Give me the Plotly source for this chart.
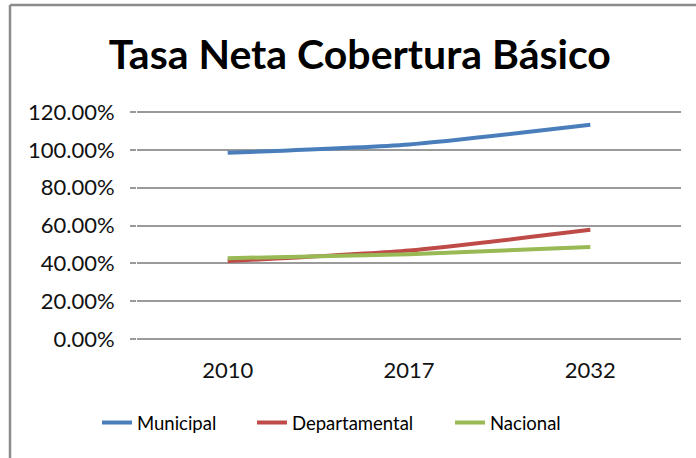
import plotly.graph_objects as go

years = ["2010", "2017", "2032"]
municipal = [0.984, 1.028, 1.132]
departamental = [0.412, 0.468, 0.577]
nacional = [0.427, 0.448, 0.487]

y_ticks = [0, 0.2, 0.4, 0.6, 0.8, 1.0, 1.2]
y_labels = ["0.00%", "20.00%", "40.00%", "60.00%", "80.00%", "100.00%", "120.00%"]

series = [
    ("Municipal", municipal, "#4A7EBB", "legend"),
    ("Departamental", departamental, "#BE4B48", "legend2"),
    ("Nacional", nacional, "#98B954", "legend3"),
]

FONT = "Lato, Carlito, Calibri, sans-serif"

fig = go.Figure()
for name, vals, color, lg in series:
    fig.add_trace(go.Scatter(
        x=years, y=vals, name=name, mode="lines", legend=lg,
        line=dict(color=color, width=4, shape="spline", smoothing=0.6),
    ))

W, H = 696, 458
L, R, T, B = 137, 15, 110, 117
PW, PH = W - L - R, H - T - B
YPAD = 2 * 1.2 / 227  # 2 px of value padding so edge gridlines get drawn

def px_x(px):
    return (px - L) / PW

def px_y(py):
    return (H - B - py) / PH

legend_text_start = [141, 296, 494]

def legend_box(text_px):
    return dict(
        orientation="h", x=px_x(text_px - 44), xanchor="left",
        y=px_y(423), yanchor="middle",
        font=dict(family=FONT, size=18.5, color="#000000"),
        bgcolor="rgba(0,0,0,0)",
    )

fig.update_layout(
    width=W, height=H,
    margin=dict(l=L, r=R, t=T, b=B),
    paper_bgcolor="white", plot_bgcolor="white",
    font=dict(family=FONT, size=18, color="#111111"),
    title=dict(
        text="<b>Tasa Neta Cobertura Básico</b>",
        x=0.517, xanchor="center", y=1 - 55 / H, yanchor="middle",
        font=dict(family=FONT, size=41, color="#000000"),
    ),
    showlegend=True,
    legend=legend_box(legend_text_start[0]),
    legend2=legend_box(legend_text_start[1]),
    legend3=legend_box(legend_text_start[2]),
    xaxis=dict(
        type="category", range=[-0.5, 2.5],
        showgrid=False, showline=False, zeroline=False,
        ticks="", tickfont=dict(family=FONT, size=22, color="#111111"),
        ticklabelstandoff=14,
    ),
    yaxis=dict(
        range=[0 - YPAD, 1.2 + YPAD], tickvals=y_ticks, ticktext=y_labels,
        showgrid=True, gridcolor="#9A9A9A", gridwidth=1.5,
        zeroline=False, showline=False,
        ticks="outside", ticklen=6, tickcolor="#9A9A9A", tickwidth=1.5,
        tickfont=dict(family=FONT, size=22, color="#111111"),
        ticklabelstandoff=11,
    ),
)

# outer chart frame (left and top edges visible in the reference)
fig.add_shape(type="line", xref="paper", yref="paper",
              x0=px_x(10), x1=px_x(W + 5),
              y0=px_y(5), y1=px_y(5),
              line=dict(color="#8C8C8C", width=2.5))
fig.add_shape(type="line", xref="paper", yref="paper",
              x0=px_x(10), x1=px_x(10),
              y0=px_y(5), y1=px_y(H + 5),
              line=dict(color="#8C8C8C", width=2.5))

fig.write_html("out.html", config={"displayModeBar": False},
               post_script="document.body.style.margin='0';")
